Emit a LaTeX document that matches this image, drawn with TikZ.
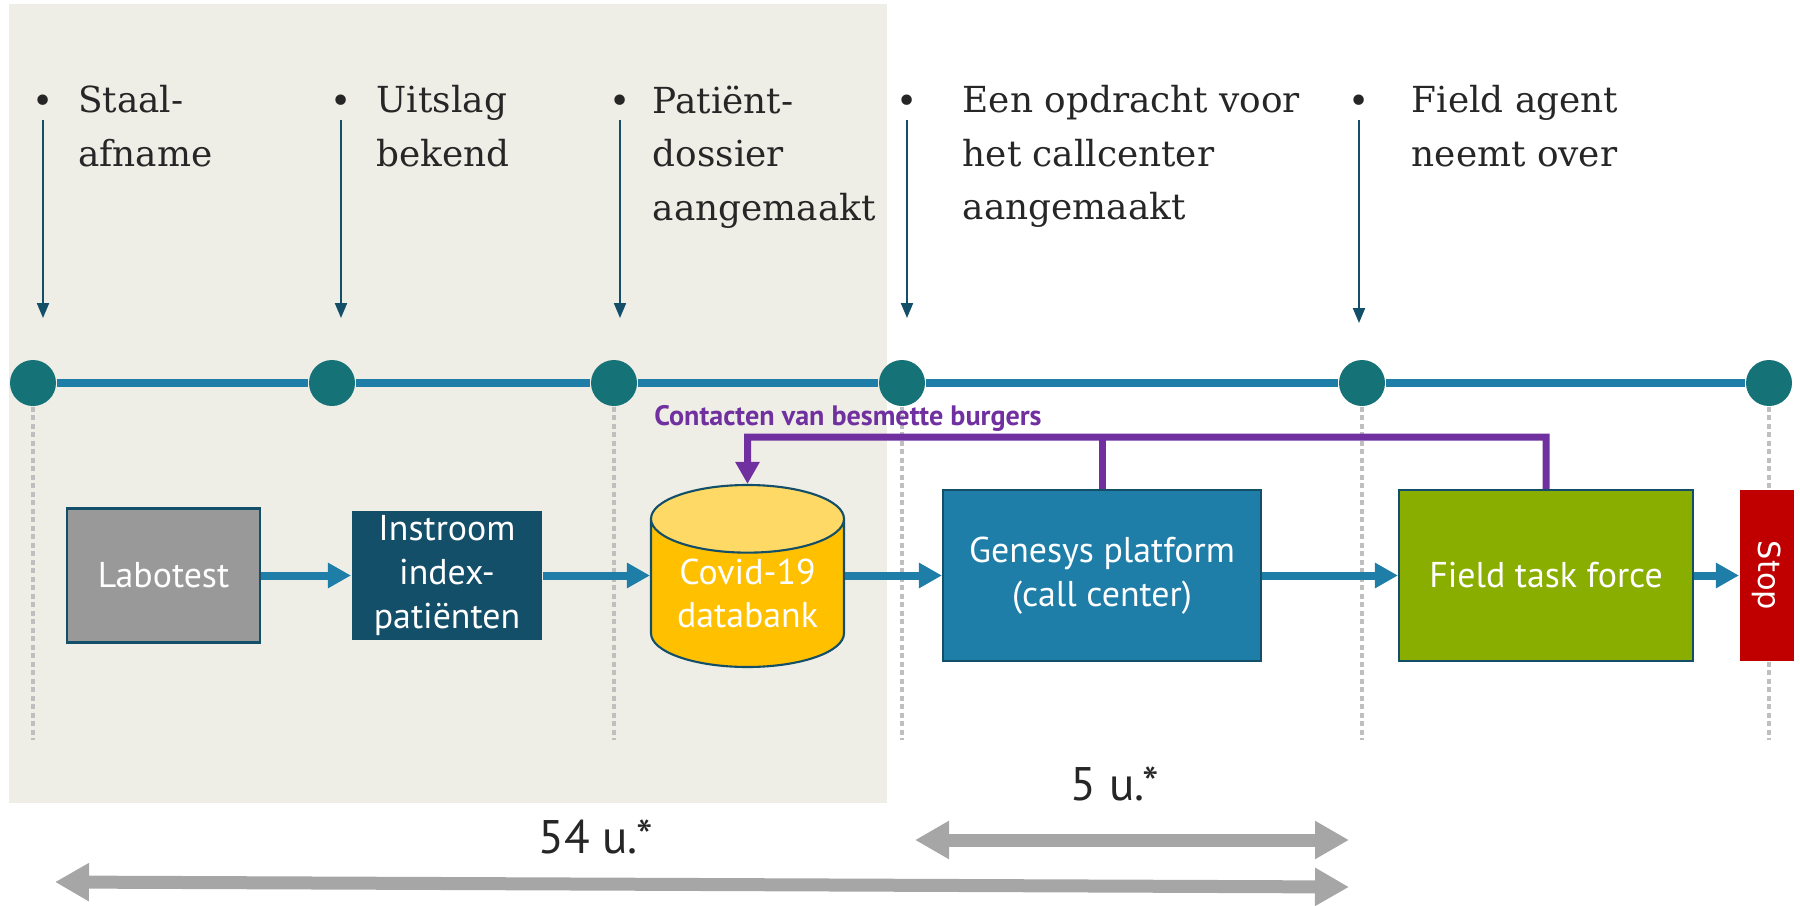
\documentclass[tikz,border=0pt]{standalone}
\usepackage{fontspec}
\setmainfont{PT Sans}
\newfontfamily\slabfont{DejaVu Serif}
\newfontfamily\stopfont{DejaVu Sans}
\usepackage{tikz}
\usetikzlibrary{shapes,arrows,positioning,calc,arrows.meta}

\definecolor{bgbeige}{HTML}{EEEDE6}
\definecolor{lineblue}{HTML}{1F7EA8}
\definecolor{dotteal}{HTML}{157276}
\definecolor{darkblue}{HTML}{134F68}
\definecolor{textgray}{HTML}{262626}
\definecolor{labgray}{HTML}{999999}
\definecolor{dbyellow}{HTML}{FFC000}
\definecolor{dbtop}{HTML}{FFD966}
\definecolor{fieldgreen}{HTML}{8AAE00}
\definecolor{stopred}{HTML}{C00000}
\definecolor{contpurple}{HTML}{7030A0}
\definecolor{spangray}{HTML}{A6A6A6}
\definecolor{guidegray}{HTML}{BFBFBF}

\begin{document}
\begin{tikzpicture}[
    event/.style={font=\slabfont\fontsize{10.2}{15.2}\selectfont, text=textgray, align=left, inner sep=0pt, anchor=north west, execute at begin node=\strut},
    bul/.style={font=\slabfont\fontsize{10.2}{15.2}\selectfont, text=textgray, inner sep=0pt, minimum height=0.3cm},
    pointer/.style={darkblue, line width=0.6pt, -{Triangle[length=0.15cm, width=0.12cm]}},
    milestone/.style={circle, fill=dotteal, minimum size=0.46cm, inner sep=0pt},
    tline/.style={lineblue, line width=0.08cm},
    guide/.style={guidegray, line width=0.035cm, dash pattern=on 0.05cm off 0.035cm},
    procbox/.style={rectangle, draw=darkblue, line width=0.6pt, text=white, align=center, inner sep=0pt, font=\fontsize{10.2}{12.4}\selectfont},
    flow/.style={lineblue, line width=0.08cm, -{Triangle[length=0.23cm, width=0.24cm]}},
    contact/.style={contpurple, line width=0.07cm},
    span/.style={spangray, line width=0.13cm, {Triangle[length=0.34cm, width=0.36cm]}-{Triangle[length=0.34cm, width=0.36cm]}},
    dur/.style={font=\fontsize{13.4}{16}\selectfont, text=textgray, inner sep=0pt}
]
    \useasboundingbox (0,0) rectangle (18,-9.06);

    % Shaded first phase
    \fill[bgbeige] (0.09,-0.04) rectangle (8.87,-8.03);

    % Timeline
    \node[milestone] (c1) at (0.33,-3.83) {};
    \node[milestone] (c2) at (3.32,-3.83) {};
    \node[milestone] (c3) at (6.14,-3.83) {};
    \node[milestone] (c4) at (9.02,-3.83) {};
    \node[milestone] (c5) at (13.62,-3.83) {};
    \node[milestone] (c6) at (17.69,-3.83) {};
    \foreach \a/\b in {c1/c2,c2/c3,c3/c4,c4/c5,c5/c6}
        \draw[tline] (\a) -- (\b);

    % Guides
    \coordinate (gbase) at (0,-7.40);
    \foreach \c in {c1,c3,c4,c5,c6}
        \draw[guide] (\c.south) -- (\c |- gbase);

    % Events
    \node[bul] (b1) at (0.43,-1.04) {•};
    \node[event] (t1) at (0.775,-0.85) {Staal-\\afname};
    \coordinate (e1) at (0.43,-3.18);
    \draw[pointer] (b1) -- (e1);

    \node[bul] (b2) at (3.41,-1.04) {•};
    \node[event] (t2) at (3.76,-0.85) {Uitslag\\bekend};
    \coordinate (e2) at (3.41,-3.18);
    \draw[pointer] (b2) -- (e2);

    \node[bul] (b3) at (6.20,-1.04) {•};
    \node[event] (t3) at (6.52,-0.85) {Patiënt-\\dossier\\aangemaakt};
    \coordinate (e3) at (6.20,-3.18);
    \draw[pointer] (b3) -- (e3);

    \node[bul] (b4) at (9.07,-1.04) {•};
    \node[event] (t4) at (9.62,-0.85) {Een opdracht voor\\het callcenter\\aangemaakt};
    \coordinate (e4) at (9.07,-3.18);
    \draw[pointer] (b4) -- (e4);

    \node[bul] (b5) at (13.59,-1.04) {•};
    \node[event] (t5) at (14.11,-0.85) {Field agent\\neemt over};
    \coordinate (e5) at (13.59,-3.23);
    \draw[pointer] (b5) -- (e5);

    % Process
    \node[procbox, fill=labgray, minimum width=1.93cm, minimum height=1.34cm] (lab) at (1.635,-5.755) {Labotest};
    \node[procbox, fill=darkblue, draw=none, minimum width=1.90cm, minimum height=1.29cm] (inst) at (4.47,-5.755) {Instroom\\index-\\patiënten};
    \node[cylinder, shape border rotate=90, draw=darkblue, line width=0.6pt, cylinder uses custom fill, cylinder body fill=dbyellow, cylinder end fill=dbtop, aspect=0.48, minimum width=1.93cm, minimum height=1.82cm, text=white, align=center, inner sep=0pt, font=\fontsize{10.2}{12.4}\selectfont, anchor=shape center] (db) at (7.475,-5.76) {Covid-19\\databank};
    \node[procbox, fill=lineblue, minimum width=3.18cm, minimum height=1.71cm] (gen) at (11.02,-5.755) {Genesys platform\\(call center)};
    \node[procbox, fill=fieldgreen, minimum width=2.94cm, minimum height=1.71cm] (ftf) at (15.46,-5.755) {Field task force};
    \node[procbox, fill=stopred, draw=none, rotate=-90, minimum width=1.71cm, minimum height=0.54cm, font=\stopfont\fontsize{8.65}{10}\selectfont] (stop) at (17.67,-5.755) {Stop};

    \draw[flow] (lab) -- (inst);
    \draw[flow] (inst.east) -- (db.west |- inst.east);
    \draw[flow] (db.east |- gen.west) -- (gen.west);
    \draw[flow] (gen) -- (ftf);
    \draw[flow] (ftf) -- (stop);

    % Contacts loop back
    \coordinate (cbend) at (7.475,-4.37);
    \draw[contact, -{Triangle[length=0.22cm, width=0.23cm]}] (ftf.north) |- (cbend) -- (db.north);
    \draw[contact] (gen.north) -- (gen.north |- cbend);
    \node[font=\bfseries\fontsize{8}{9}\selectfont, text=contpurple, anchor=base, inner sep=0pt] (clabel) at (8.48,-4.25) {Contacten van besmette burgers};

    % Durations
    \coordinate (s1l) at (9.15,-8.40);
    \coordinate (s1r) at (13.49,-8.40);
    \draw[span] (s1l) -- (s1r);
    \node[dur] (d1) at (11.15,-7.84) {5 u.*};

    \coordinate (s2l) at (0.55,-8.82);
    \coordinate (s2r) at (13.49,-8.87);
    \draw[span] (s2l) -- (s2r);
    \node[dur] (d2) at (5.955,-8.37) {54 u.*};
\end{tikzpicture}
\end{document}
